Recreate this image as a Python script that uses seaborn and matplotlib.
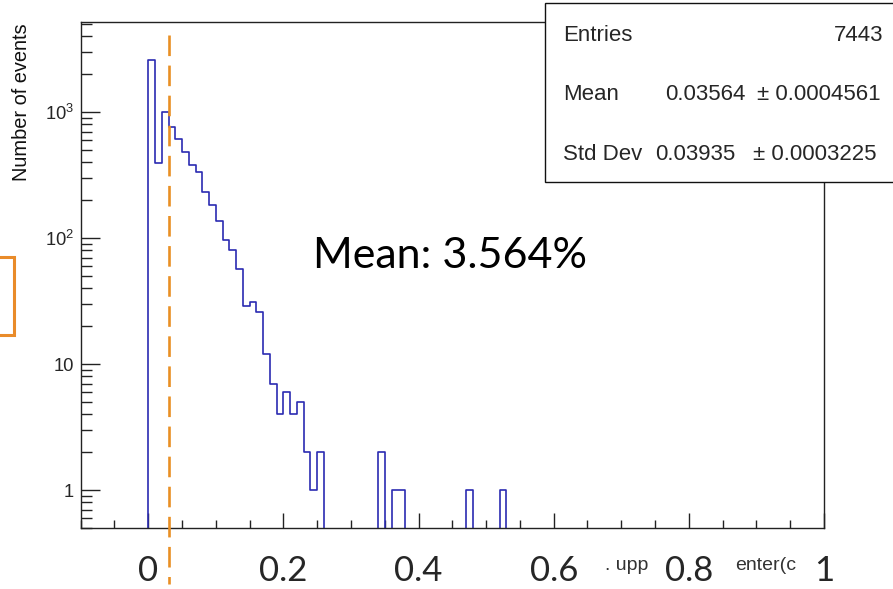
import numpy as np
import pandas as pd
import matplotlib
matplotlib.use("Agg")
import matplotlib.pyplot as plt
import matplotlib.transforms as mtransforms
from matplotlib.patches import Rectangle
from matplotlib.ticker import FixedLocator, MultipleLocator, LogLocator, NullFormatter
import seaborn as sns

# ---------------- data ----------------
bin_width = 0.01
main_counts = [2587, 396, 1000, 760, 607, 482, 378, 334, 232, 184, 136, 96, 81,
               57, 29, 31, 26, 12, 7, 4, 6, 4, 5, 2, 1, 2]        # bins from 0.00 upward
tail_bin_starts = [0.34, 0.36, 0.37, 0.47, 0.52]
tail_counts = [2, 1, 1, 1, 1]
marker_x = 0.031                                   # dashed orange marker
x_tick_values = [0, 0.2, 0.4, 0.6, 0.8, 1.0]
x_tick_labels = ["0", "0.2", "0.4", "0.6", "0.8", "1"]
y_tick_values = [1, 10, 100, 1000]
y_tick_labels = ["1", "10", r"$\mathdefault{10^{2}}$", r"$\mathdefault{10^{3}}$"]
stats_names = ["Entries", "Mean", "Std Dev"]
stats_values = ["", "0.03564", "0.03935"]
stats_errors = ["7443", "\u00b1 0.0004561", "\u00b1 0.0003225"]
mean_text = "Mean: 3.564%"
y_title = "Number of events"
x_title_fragments = [". upp", "enter(c"]

# ---------------- build table ----------------
starts = [i * bin_width for i in range(len(main_counts))] + tail_bin_starts
counts = main_counts + tail_counts
df = pd.DataFrame({"center": np.array(starts) + bin_width / 2, "count": counts})
edges = [round(v, 4) for v in np.arange(-0.10, 1.0 + 1e-9, bin_width)]

sns.set_style("ticks")
plt.rcParams["font.family"] = ["Liberation Sans", "DejaVu Sans"]
plt.rcParams["mathtext.default"] = "regular"

W, H = 893, 589
fig = plt.figure(figsize=(W / 100, H / 100), dpi=100)
fig.patch.set_facecolor("white")
ax = fig.add_axes([80.7 / W, 1 - 528 / H, (824 - 80.7) / W, (528 - 22) / H])

sns.histplot(data=df, x="center", weights="count", bins=edges, element="step",
             fill=False, color="#2b2bb2", linewidth=1.2, ax=ax)

ax.set_yscale("log")
ax.set_xlim(-0.1, 1.0)
ax.set_ylim(0.5, 5180)
ax.set_xlabel("")
ax.set_ylabel("")

# x axis
ax.xaxis.set_major_locator(FixedLocator(x_tick_values))
ax.xaxis.set_minor_locator(MultipleLocator(0.05))
ax.set_xticklabels(x_tick_labels, fontfamily="Lato", fontsize=25)
for lbl in ax.get_xticklabels():
    lbl.set_verticalalignment("baseline")
ax.tick_params(axis="x", which="major", direction="in", length=11, width=1,
               color="#222222", pad=38)
ax.tick_params(axis="x", which="minor", direction="in", length=5.5, width=1,
               color="#222222")

# y axis
ax.yaxis.set_major_locator(FixedLocator(y_tick_values))
ax.set_yticklabels(y_tick_labels, fontsize=13.2)
ax.yaxis.set_minor_locator(LogLocator(base=10, subs=np.arange(2, 10)))
ax.yaxis.set_minor_formatter(NullFormatter())
ax.tick_params(axis="y", which="major", direction="in", length=13.5, width=1,
               color="#222222", pad=5)
ax.tick_params(axis="y", which="minor", direction="in", length=8, width=1,
               color="#222222")

for sp in ax.spines.values():
    sp.set_visible(True)
    sp.set_color("#222222")
    sp.set_linewidth(1.0)

# dashed orange marker
blend = mtransforms.blended_transform_factory(ax.transData, ax.transAxes)
ax.plot([marker_x, marker_x], [(528 - 35) / 506, (528 - 584) / 506], transform=blend,
        clip_on=False, color="#E98F24", lw=1.9, linestyle=(0, (7.8, 3.6)), zorder=4)

# y title
fig.text(21.5 / W, 1 - 23 / H, y_title, rotation=90, ha="center", va="top",
         fontsize=14.4, color="#111111")

# x title fragments (partly hidden in the original)
fig.text(605 / W, 1 - 570 / H, x_title_fragments[0], fontsize=14, color="#333333",
         va="baseline")
fig.text(735 / W, 1 - 570 / H, x_title_fragments[1], fontsize=14, color="#333333",
         va="baseline")

# stats box
fig.add_artist(Rectangle((545 / W, 1 - 182 / H), (905 - 545) / W, (182 - 3) / H,
                         transform=fig.transFigure, facecolor="white",
                         edgecolor="#111111", lw=1.0, zorder=5))
row_y = [35.5, 94.5, 155]
value_left = [None, 665, 655]
error_left = [None, 757, 753]
for i, (name, val, err, yy) in enumerate(zip(stats_names, stats_values, stats_errors, row_y)):
    fig.text(563 / W, 1 - yy / H, name, fontsize=16, va="center", ha="left", zorder=6)
    if val:
        fig.text(value_left[i] / W, 1 - yy / H, val, fontsize=16, va="center",
                 ha="left", zorder=6)
        fig.text(error_left[i] / W, 1 - yy / H, err, fontsize=16, va="center",
                 ha="left", zorder=6)
    else:
        fig.text(883 / W, 1 - yy / H, err, fontsize=16, va="center", ha="right", zorder=6)

# annotation text
fig.text(313 / W, 1 - 268 / H, mean_text, fontfamily="Lato", fontsize=31,
         va="baseline", ha="left", color="black")

# orange box fragment on the left edge
fig.add_artist(Rectangle((-30 / W, 1 - 335 / H), (14 + 30) / W, (335 - 257) / H,
                         transform=fig.transFigure, fill=False,
                         edgecolor="#E98B2A", lw=2.2, zorder=5))

fig.savefig("out.png", dpi=100, facecolor="white")
